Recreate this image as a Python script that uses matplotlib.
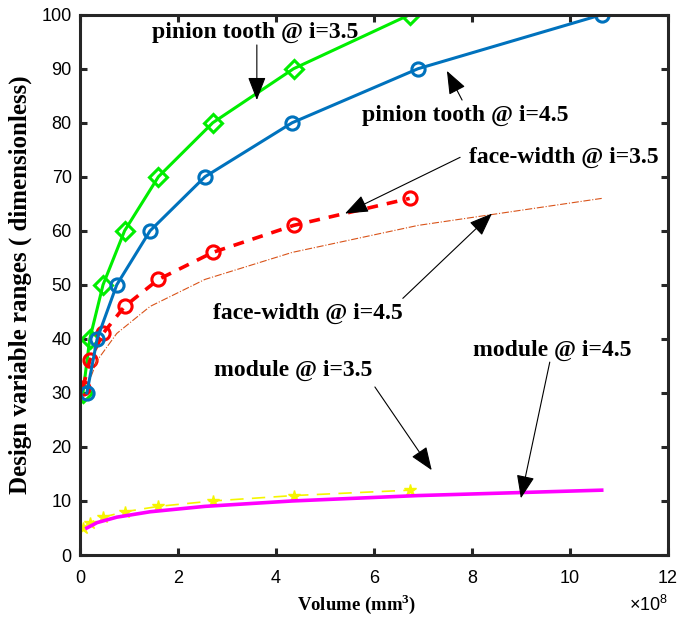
import numpy as np
import matplotlib
matplotlib.use("Agg")
import matplotlib.pyplot as plt
from matplotlib.ticker import FuncFormatter

# 볼륨 (mm^3), 두 기어비 별 x 좌표
vol_35 = np.array([0.06, 0.20, 0.47, 0.91, 1.60, 2.71, 4.36, 6.73]) * 1e8
vol_45 = np.array([0.14, 0.35, 0.75, 1.43, 2.55, 4.33, 6.90, 10.65]) * 1e8

pinion_35 = [30, 40, 50, 60, 70, 80, 90, 100]
pinion_45 = [30, 40, 50, 60, 70, 80, 90, 100]
face_35 = [31, 36, 41, 46, 51, 56, 61, 66]
face_45 = [31, 36, 41, 46, 51, 56, 61, 66]
module_35 = [5, 6, 7, 8, 9, 10, 11, 12]
module_45 = [5, 6, 7, 8, 9, 10, 11, 12]

SERIF = "Liberation Serif"
plt.rcParams["font.family"] = "Liberation Sans"
plt.rcParams["mathtext.fontset"] = "custom"
plt.rcParams["mathtext.rm"] = "Liberation Sans"
plt.rcParams["mathtext.bf"] = "Liberation Serif:bold"

fig = plt.figure(figsize=(6.78, 6.25), dpi=100)
ax = fig.add_axes([0.118, 0.112, 0.867, 0.8645])

ax.plot(vol_35, pinion_35, "-", color="#00ee00", lw=2.2, marker="D", ms=9.5,
        mfc="none", mew=2.2)
ax.plot(vol_35, module_35, "--", color="#f5f500", lw=1.2, marker="*", ms=9,
        dashes=(8, 5))
ax.plot(vol_35, face_35, "--", color="red", lw=2.6, marker="o", ms=9.5,
        mfc="none", mew=2.2, dashes=(3, 2.5))
ax.plot(vol_45, face_45, "-.", color="#D95319", lw=0.8)
ax.plot(vol_45, module_45, "-", color="#ff00ff", lw=2.6)
ax.plot(vol_45, pinion_45, "-", color="#0072BD", lw=2.2, marker="o", ms=9.5,
        mfc="none", mew=2.2)

ax.set_xlim(0, 12e8)
ax.set_ylim(0, 100)
ax.set_xticks(np.arange(0, 12.1e8, 2e8))
ax.set_yticks(np.arange(0, 101, 10))
ax.xaxis.set_major_formatter(FuncFormatter(lambda v, p: f"{v / 1e8:g}"))
ax.text(1.0, -0.093, r"$\times10^{8}$", transform=ax.transAxes,
        ha="right", va="center", fontsize=13)

for s in ax.spines.values():
    s.set_linewidth(2.2)
    s.set_color("#262626")
ax.tick_params(direction="in", length=5, width=2.2, labelsize=13,
               top=True, right=True, color="#262626")
ax.tick_params(axis="x", pad=11)
ax.tick_params(axis="y", pad=6)

ax.set_xlabel(r"Volume (mm$^{\mathbf{3}}$)", family=SERIF, weight="bold",
              fontsize=13.5)
ax.xaxis.set_label_coords(0.47, -0.068)
ax.set_ylabel("Design variable ranges ( dimensionless)", family=SERIF,
              weight="bold", fontsize=18)
ax.yaxis.set_label_coords(-0.082, 0.5)

arrow = dict(arrowstyle="-|>,head_length=0.9,head_width=0.35", color="black",
             lw=0.8, shrinkA=0, shrinkB=0, mutation_scale=16)
notes = [
    ("pinion tooth @ i=3.5", (3.57e8, 96.8), (3.61e8, 94.4), (3.61e8, 84.2)),
    ("pinion tooth @ i=4.5", (7.86e8, 81.4), (7.80e8, 84.2), (7.49e8, 89.6)),
    ("face-width @ i=3.5", (9.88e8, 73.6), (7.76e8, 73.6), (5.41e8, 63.2)),
    ("face-width @ i=4.5", (4.66e8, 44.8), (6.59e8, 47.5), (8.41e8, 63.2)),
    ("module @ i=3.5", (4.35e8, 34.2), (6.02e8, 31.1), (7.18e8, 15.7)),
    ("module @ i=4.5", (9.64e8, 37.9), (9.59e8, 35.7), (9.00e8, 10.5)),
]
for label, txt, tail, tip in notes:
    ax.annotate("", xy=tip, xytext=tail, arrowprops=arrow)
    ax.text(*txt, label, family=SERIF, weight="bold", fontsize=17,
            ha="center", va="center")

fig.savefig("out.png", dpi=100)
